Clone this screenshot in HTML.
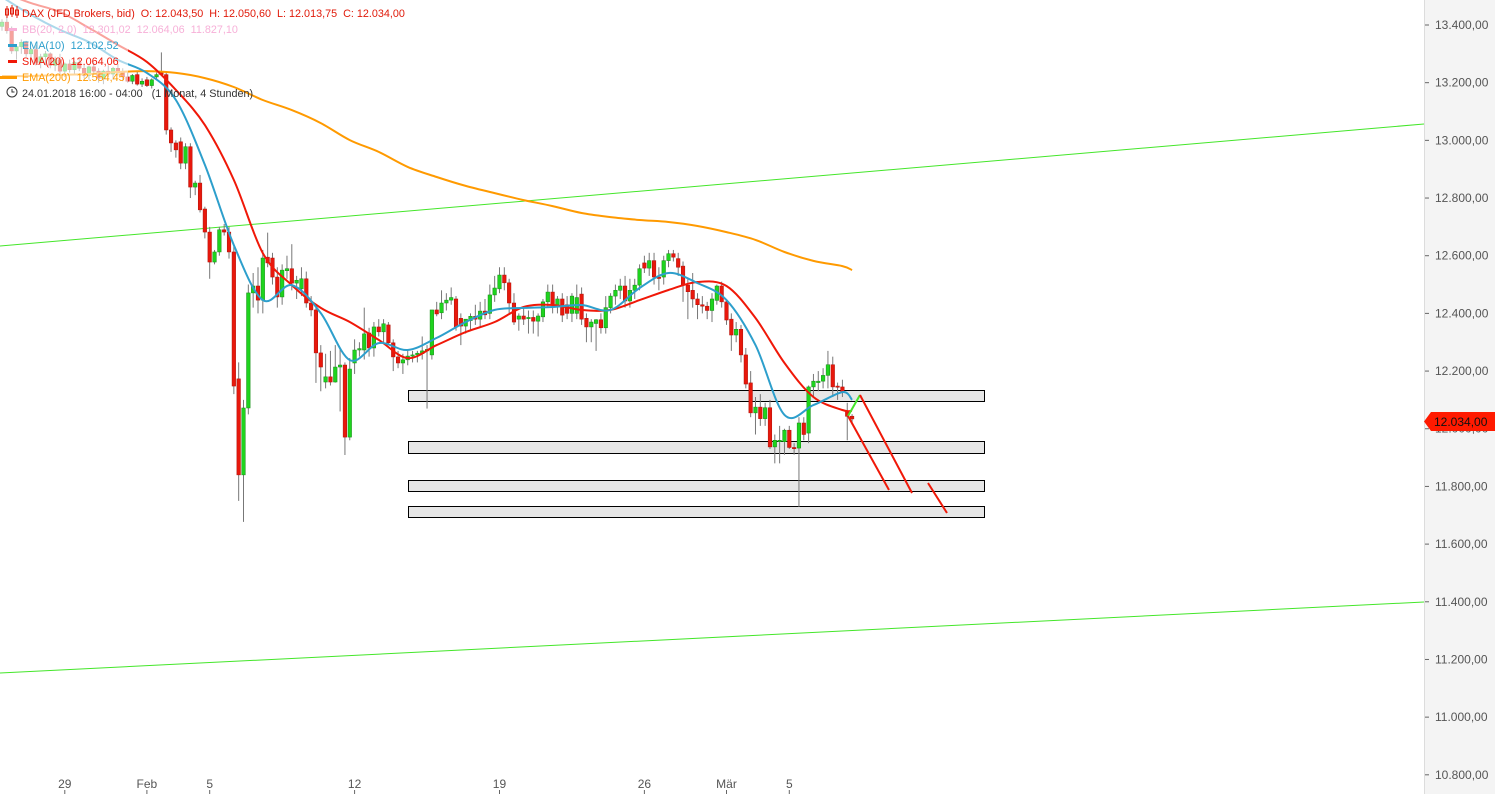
<!DOCTYPE html>
<html><head><meta charset="utf-8"><style>
html,body{margin:0;padding:0;background:#fff;}
svg{display:block;font-family:"Liberation Sans",sans-serif;}
.pre{white-space:pre;}
</style></head><body>
<svg id="chart" width="1495" height="794" viewBox="0 0 1495 794" xmlns="http://www.w3.org/2000/svg">
<rect x="0" y="0" width="1495" height="794" fill="#fff"/>
<rect x="1424" y="0" width="71" height="794" fill="#f4f4f4"/>
<line x1="1424.5" y1="0" x2="1424.5" y2="794" stroke="#dcdcdc"/>
<g id="zones"></g>
<g id="trend"></g>
<g id="candles"></g>
<g id="mas"></g>
<g id="proj"></g>
<g id="yaxis"></g>
<g id="xaxis"></g>
<rect x="0" y="0" width="128" height="100" fill="rgba(255,255,255,0.6)"/>
<g font-size="10.8">
  <g stroke="#e01a0a" fill="none">
    <line x1="7" y1="6" x2="7" y2="18"/><rect x="5.5" y="9" width="3" height="6"/>
    <line x1="12" y1="5" x2="12" y2="17"/><rect x="10.5" y="8" width="3" height="6"/>
    <line x1="17" y1="6" x2="17" y2="18"/><rect x="15.5" y="10" width="3" height="5"/>
  </g>
  <text class="pre" x="22" y="17" fill="#e01a0a">DAX (JFD Brokers, bid)  O: 12.043,50  H: 12.050,60  L: 12.013,75  C: 12.034,00</text>
  <rect x="8" y="28" width="9" height="3" fill="#f7b0d8"/>
  <text class="pre" x="22" y="33" fill="#f7b0d8">BB(20, 2.0)  12.301,02  12.064,06  11.827,10</text>
  <rect x="8" y="44" width="9" height="3" fill="#2d9fcc"/>
  <text class="pre" x="22" y="49" fill="#2d9fcc">EMA(10)  12.102,52</text>
  <rect x="8" y="60" width="9" height="3" fill="#f01808"/>
  <text class="pre" x="22" y="65" fill="#f01808">SMA(20)  12.064,06</text>
  <rect x="0" y="76" width="17" height="3" fill="#ff9a00"/>
  <text class="pre" x="22" y="81" fill="#ff9a00">EMA(200)  12.554,45</text>
  <circle cx="12" cy="92" r="5" fill="none" stroke="#333"/>
  <path d="M12 89 V92 H14.5" fill="none" stroke="#333"/>
  <text class="pre" x="22" y="97" fill="#333">24.01.2018 16:00 - 04:00   (1 Monat, 4 Stunden)</text>
</g>
<g>
  <polygon points="1424,421.5 1431,412 1495,412 1495,431 1431,431" fill="#ff1a00"/>
  <text x="1434" y="426" font-size="12" fill="#111">12.034,00</text>
</g>
</svg>
<script>
const opens=[13395,13410,13380,13310,13325,13340,13300,13315,13270,13290,
13300,13260,13280,13240,13265,13245,13270,13250,13225,13255,
13240,13215,13240,13230,13250,13235,13220,13205,13228,13195,
13210,13190,13220,13235,13228,13036,12991,12995,12921,12978,
12838,12852,12762,12682,12578,12613,12690,12682,12613,12173,
11840,12072,12471,12495,12446,12595,12592,12526,12457,12548,
12555,12505,12485,12520,12436,12412,12263,12162,12180,12162,
12214,12221,11971,12228,12273,12273,12332,12280,12353,12336,
12360,12298,12249,12228,12239,12252,12256,12260,12270,12256,
12412,12402,12436,12446,12450,12383,12356,12375,12390,12380,
12408,12400,12464,12485,12533,12506,12436,12380,12391,12382,
12386,12373,12388,12440,12474,12429,12450,12430,12400,12400,
12467,12383,12353,12365,12378,12350,12420,12460,12480,12495,
12443,12480,12498,12575,12557,12583,12526,12526,12583,12607,
12590,12564,12498,12480,12450,12430,12425,12410,12445,12495,
12440,12380,12325,12345,12256,12159,12055,12075,12035,12073,
11937,11955,11955,11995,11935,11933,12020,11985,12145,12160,
12165,12185,12222,12148,12145,12062,12043.5];
const highs=[13420,13430,13395,13330,13350,13345,13320,13330,13300,13310,
13305,13290,13300,13270,13280,13275,13285,13265,13260,13270,
13250,13245,13260,13255,13265,13250,13240,13230,13240,13215,
13220,13215,13235,13305,13240,13045,13000,13010,12990,12990,
12860,12880,12770,12700,12620,12700,12710,12700,12640,12230,
12100,12500,12540,12560,12620,12680,12610,12560,12570,12600,
12640,12530,12560,12545,12460,12420,12290,12260,12270,12290,
12280,12230,12245,12310,12300,12420,12350,12370,12380,12380,
12370,12310,12270,12260,12270,12270,12270,12320,12290,12400,
12440,12480,12470,12490,12460,12400,12380,12400,12430,12440,
12450,12500,12530,12560,12560,12520,12470,12400,12420,12410,
12410,12400,12450,12500,12500,12460,12470,12460,12470,12500,
12490,12400,12380,12380,12400,12460,12470,12500,12520,12530,
12520,12520,12570,12600,12610,12610,12560,12600,12620,12620,
12610,12580,12520,12540,12470,12460,12440,12470,12500,12510,
12450,12400,12370,12360,12280,12200,12110,12120,12090,12100,
11980,12010,12000,12010,11950,12040,12040,12150,12190,12200,
12210,12270,12250,12160,12170,12090,12050.6];
const lows=[13380,13370,13300,13280,13300,13290,13270,13260,13250,13260,
13250,13240,13230,13220,13235,13230,13240,13215,13210,13230,
13200,13195,13220,13210,13225,13205,13200,13195,13190,13185,
13185,13180,13210,13225,13020,12960,12940,12900,12900,12800,
12810,12750,12660,12520,12570,12600,12670,12590,12120,11750,
11677,12050,12420,12400,12400,12560,12500,12420,12430,12520,
12480,12450,12460,12420,12390,12159,12130,12140,12150,12160,
12060,11909,11960,12190,12250,12240,12250,12250,12320,12300,
12290,12200,12210,12190,12220,12230,12230,12240,12070,12240,
12390,12380,12410,12430,12340,12290,12330,12340,12360,12350,
12380,12380,12440,12470,12480,12400,12360,12340,12360,12330,
12330,12320,12370,12420,12400,12400,12370,12380,12370,12380,
12360,12300,12300,12270,12330,12330,12400,12430,12450,12420,
12420,12450,12480,12540,12530,12500,12480,12500,12560,12580,
12530,12440,12380,12420,12380,12400,12380,12370,12430,12420,
12360,12270,12300,12230,12140,12040,11980,12010,12010,11930,
11880,11880,11910,11930,11910,11729,11960,11950,12110,12130,
12140,12140,12110,12100,12110,11960,12013.75];
const closes=[13410,13380,13310,13325,13340,13300,13315,13270,13290,13300,
13260,13280,13240,13265,13245,13270,13250,13225,13255,13240,
13215,13240,13230,13250,13235,13220,13205,13225,13195,13205,
13190,13210,13228,13228,13036,12991,12967,12921,12978,12838,
12852,12759,12682,12578,12613,12690,12682,12613,12148,11840,
12072,12471,12495,12446,12592,12575,12526,12457,12550,12555,
12505,12515,12520,12436,12412,12263,12214,12180,12162,12214,
12221,11971,12207,12273,12278,12329,12280,12353,12336,12364,
12298,12249,12228,12239,12252,12256,12262,12270,12275,12412,
12398,12436,12446,12455,12353,12356,12380,12390,12380,12408,
12395,12464,12488,12533,12506,12436,12370,12391,12380,12386,
12373,12391,12440,12474,12429,12450,12394,12400,12460,12455,
12380,12353,12370,12378,12350,12420,12460,12480,12495,12443,
12480,12498,12555,12557,12583,12526,12521,12583,12607,12595,
12560,12498,12475,12450,12430,12425,12410,12450,12495,12440,
12377,12325,12345,12256,12155,12055,12075,12035,12073,11937,
11960,11960,11995,11935,11933,12020,11980,12145,12165,12165,
12185,12222,12145,12145,12125,12043,12034];
const maIdx=[0,6,12,18,24,30,36,42,48,54,60,66,72,78,84,90,96,102,108,114,120,126,132,138,144,150,156,162,168,174,176];
const ema10=[13497,13435,13383,13341,13279,13234,13140,12915,12637,12446,12498,12401,12238,12297,12273,12315,12370,12412,12419,12422,12429,12412,12488,12540,12505,12446,12290,12048,12082,12127,12100];
const sma20=[13514,13476,13445,13390,13331,13272,13175,13053,12863,12609,12498,12419,12370,12308,12245,12290,12335,12370,12422,12429,12412,12412,12446,12481,12509,12495,12384,12228,12110,12065,12062];
const ema200=[13223,13223,13227,13230,13237,13240,13234,13216,13185,13140,13105,13060,13001,12960,12908,12873,12842,12817,12793,12772,12748,12734,12724,12717,12703,12682,12655,12613,12582,12564,12550];
const yTicks=[13400,13200,13000,12800,12600,12400,12200,12000,11800,11600,11400,11200,11000,10800];
const xLabels=["29","Feb","5","12","19","26","Mär","5"];
const xLabelIdx=[13,30,43,73,103,133,150,163];
const zoneTops=[12134,11958,11822,11732];
const zoneBottoms=[12096,11916,11784,11694];

const NS="http://www.w3.org/2000/svg";
function yS(p){return 25+(13400-p)*0.28839;}
function xS(i){return 2+i*4.83;}
function mk(tag,attrs,parent){const e=document.createElementNS(NS,tag);for(const k in attrs)e.setAttribute(k,attrs[k]);parent.appendChild(e);return e;}
function fmt(v){const s=Math.round(v).toString();return s.slice(0,s.length-3)+"."+s.slice(-3)+",00";}

const zones=document.getElementById('zones');
zoneTops.forEach((t,k)=>{
  const r=mk('rect',{x:408.5,y:Math.round(yS(t))+0.5,width:576,height:Math.round(yS(zoneBottoms[k])-yS(t)),fill:'#e6e6e6',stroke:'#000','stroke-width':1},zones);
  
  
});

const trend=document.getElementById('trend');
const t1=mk('line',{x1:0,y1:246,x2:1424,y2:124,stroke:'#44e62a','stroke-width':1},trend);


const t2=mk('line',{x1:0,y1:673,x2:1424,y2:602,stroke:'#44e62a','stroke-width':1},trend);



const cg=document.getElementById('candles');
for(let i=0;i<closes.length;i++){
  const x=xS(i),o=opens[i],c=closes[i];
  const up=c>=o;
  const g=mk('g',{},cg);
  
  
  mk('line',{x1:x,y1:yS(highs[i]),x2:x,y2:yS(lows[i]),stroke:'#777','stroke-width':1},g);
  const top=yS(Math.max(o,c)),bot=yS(Math.min(o,c));
  mk('rect',{x:x-1.8,y:top,width:3.6,height:Math.max(1.2,bot-top),fill:up?'#1ed41e':'#e8180c',stroke:up?'#168a16':'#b01008','stroke-width':0.5},g);
}

const mg=document.getElementById('mas');
function line(arr,color,name){
  const P=arr.map((v,k)=>[xS(maIdx[k]),yS(v)]);
  let d='M'+P[0][0].toFixed(1)+','+P[0][1].toFixed(1);
  for(let k=0;k<P.length-1;k++){
    const p0=P[Math.max(0,k-1)],p1=P[k],p2=P[k+1],p3=P[Math.min(P.length-1,k+2)];
    const c1x=p1[0]+(p2[0]-p0[0])/6,c1y=p1[1]+(p2[1]-p0[1])/6;
    const c2x=p2[0]-(p3[0]-p1[0])/6,c2y=p2[1]-(p3[1]-p1[1])/6;
    d+=' C'+c1x.toFixed(1)+','+c1y.toFixed(1)+' '+c2x.toFixed(1)+','+c2y.toFixed(1)+' '+p2[0].toFixed(1)+','+p2[1].toFixed(1);
  }
  const p=mk('path',{d:d,fill:'none',stroke:color,'stroke-width':2,'stroke-linejoin':'round'},mg);
  
  
}
line(ema200,'#ff9a00','ema200-line');
line(sma20,'#f01808','sma20-line');
line(ema10,'#2d9fcc','ema10-line');

const pg=document.getElementById('proj');
const pr=[[848,416,860,395,'#44e62a'],[860,395,912,493,'#f01808'],[848,416,889,490,'#f01808'],[928,483,947,513,'#f01808']];
pr.forEach(s=>{
  const l=mk('line',{x1:s[0],y1:s[1],x2:s[2],y2:s[3],stroke:s[4],'stroke-width':2},pg);
  
  
});

const ya=document.getElementById('yaxis');
yTicks.forEach(v=>{
  const y=yS(v);
  mk('line',{x1:1425,y1:y,x2:1429,y2:y,stroke:'#666'},ya);
  const t=mk('text',{x:1435,y:y+4,'font-size':12,fill:'#555'},ya);
  t.textContent=fmt(v);
  
  
});

const xa=document.getElementById('xaxis');
xLabels.forEach((s,k)=>{
  const x=xS(xLabelIdx[k]);
  mk('line',{x1:x,y1:790,x2:x,y2:794,stroke:'#666'},xa);
  const t=mk('text',{x:x,y:788,'font-size':12,fill:'#555','text-anchor':'middle'},xa);
  t.textContent=s;
  
  
});
</script>
</body></html>
